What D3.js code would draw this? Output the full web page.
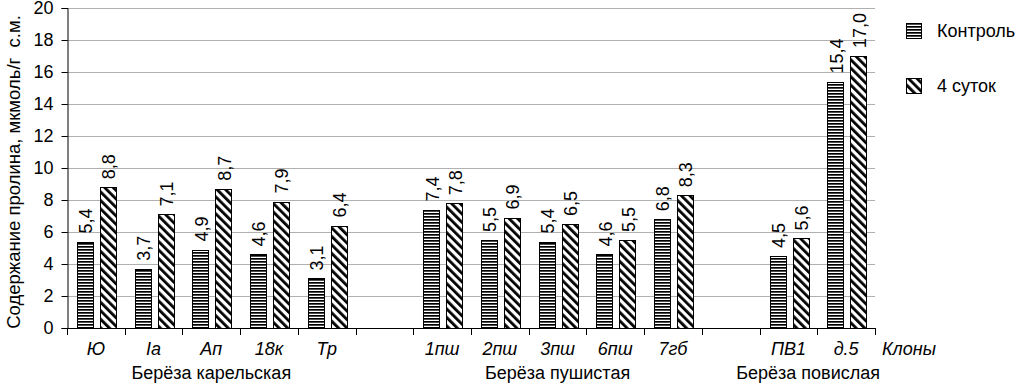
<!DOCTYPE html>
<html><head><meta charset="utf-8">
<script src="https://cdn.jsdelivr.net/npm/d3@7"></script>
<style>body{margin:0;background:#fff}svg{display:block;font-family:"Liberation Sans",Arial,sans-serif}</style>
</head><body><svg id="c" width="1017" height="383"></svg>
<script>
const clones = ["Ю","Ia","Ап","18к","Тр","1пш","2пш","3пш","6пш","7гб","ПВ1","д.5"];
const cloneGroup = [0,0,0,0,0,1,1,1,1,1,2,2];
const groupNames = ["Берёза карельская","Берёза пушистая","Берёза повислая"];
const control = [5.4,3.7,4.9,4.6,3.1,7.4,5.5,5.4,4.6,6.8,4.5,15.4];
const day4 = [8.8,7.1,8.7,7.9,6.4,7.8,6.9,6.5,5.5,8.3,5.6,17.0];
const seriesNames = ["Контроль","4 суток"];
const yTicks = [0,2,4,6,8,10,12,14,16,18,20];

const svg = d3.select("#c");
const M = {l:67, r:875, t:8, b:328};

const slots = [];
clones.forEach((c,i)=>{ if(i>0 && cloneGroup[i]!==cloneGroup[i-1]) slots.push("gap"+i); slots.push(c); });

const x = d3.scaleBand().domain(slots).range([M.l, M.r]).padding(0);
const xs = d3.scaleBand().domain([0,1]).range([10, x.bandwidth()-8.7]).paddingInner(0.3);
const y = d3.scaleLinear().domain([0,20]).range([M.b, M.t]);

const defs = svg.append("defs");
const p1 = defs.append("pattern").attr("id","hor").attr("patternUnits","userSpaceOnUse").attr("width",8).attr("height",3);
p1.append("rect").attr("width",8).attr("height",3).attr("fill","#fff");
p1.append("rect").attr("y",0).attr("width",8).attr("height",1.7).attr("fill","#000");
const p2 = defs.append("pattern").attr("id","diag").attr("patternUnits","userSpaceOnUse").attr("width",6).attr("height",6).attr("patternTransform","rotate(-45)");
p2.append("rect").attr("width",6).attr("height",6).attr("fill","#fff");
p2.append("rect").attr("width",2.8).attr("height",6).attr("fill","#000");
const fills = ["url(#hor)","url(#diag)"];

svg.append("g").selectAll("line").data(yTicks.slice(1)).join("line")
  .attr("x1",M.l).attr("x2",M.r).attr("y1",d=>y(d)+0.5).attr("y2",d=>y(d)+0.5)
  .attr("stroke","#b0b0b0").attr("stroke-width",1);

const ya = svg.append("g").attr("transform",`translate(${M.l+0.5},0)`)
  .call(d3.axisLeft(y).tickValues(yTicks).tickSize(6).tickPadding(8).tickFormat(d3.format("d")));
ya.select(".domain").attr("stroke","#000");
ya.selectAll("text").attr("font-size",18).attr("font-family","Liberation Sans, Arial").attr("fill","#000");

const data = [];
clones.forEach((c,i)=>{ [control[i],day4[i]].forEach((v,s)=>data.push({c,s,v})); });
svg.append("g").selectAll("rect").data(data).join("rect")
  .attr("x",d=>Math.round(x(d.c)+xs(d.s))+0.5)
  .attr("y",d=>Math.round(y(d.v))+0.5)
  .attr("width",Math.round(xs.bandwidth()))
  .attr("height",d=>Math.round(y(0))-Math.round(y(d.v)))
  .attr("fill",d=>fills[d.s]).attr("stroke","#000").attr("stroke-width",1);

const fmt = v => d3.format(".1f")(v).replace(".",",");
svg.append("g").selectAll("text").data(data).join("text")
  .attr("transform",d=>`translate(${x(d.c)+xs(d.s)+xs.bandwidth()/2+1},${y(d.v)-8}) rotate(-90)`)
  .attr("dy","0.35em").attr("font-size",18).attr("fill","#000")
  .text(d=>fmt(d.v));

svg.append("line").attr("x1",M.l).attr("x2",M.r).attr("y1",M.b+0.5).attr("y2",M.b+0.5).attr("stroke","#000");
const bounds = slots.map(s=>x(s)).concat([M.r]);
svg.append("g").selectAll("line").data(bounds).join("line")
  .attr("x1",d=>Math.round(d)+0.5).attr("x2",d=>Math.round(d)+0.5).attr("y1",M.b).attr("y2",M.b+7).attr("stroke","#000");
svg.append("g").selectAll("text").data(clones).join("text")
  .attr("x",d=>x(d)+x.bandwidth()/2).attr("y",355).attr("text-anchor","middle")
  .attr("font-size",18).attr("font-style","italic").text(d=>d);
svg.append("text").attr("x",M.r+7).attr("y",355).attr("font-size",18).attr("font-style","italic").text("Клоны");

groupNames.forEach((g,gi)=>{
  const cs = clones.filter((c,i)=>cloneGroup[i]===gi);
  const cx = (x(cs[0]) + x(cs[cs.length-1]) + x.bandwidth())/2;
  const last = gi===groupNames.length-1;
  svg.append("text").attr("x",last? M.r+5 : cx).attr("y",379)
    .attr("text-anchor",last?"end":"middle").attr("font-size",18).text(g);
});

svg.append("text").attr("transform",`translate(20,${(M.t+M.b)/2+4}) rotate(-90)`)
  .attr("text-anchor","middle").attr("font-size",18.5).attr("xml:space","preserve")
  .text("Содержание пролина, мкмоль/г  с.м.");

seriesNames.forEach((s,i)=>{
  const g = svg.append("g").attr("transform",`translate(906,${23+i*55})`);
  g.append("rect").attr("x",0.5).attr("y",0.5).attr("width",15).attr("height",15).attr("fill",fills[i]).attr("stroke","#000");
  g.append("text").attr("x",31).attr("y",14).attr("font-size",18).text(s);
});
</script></body></html>
